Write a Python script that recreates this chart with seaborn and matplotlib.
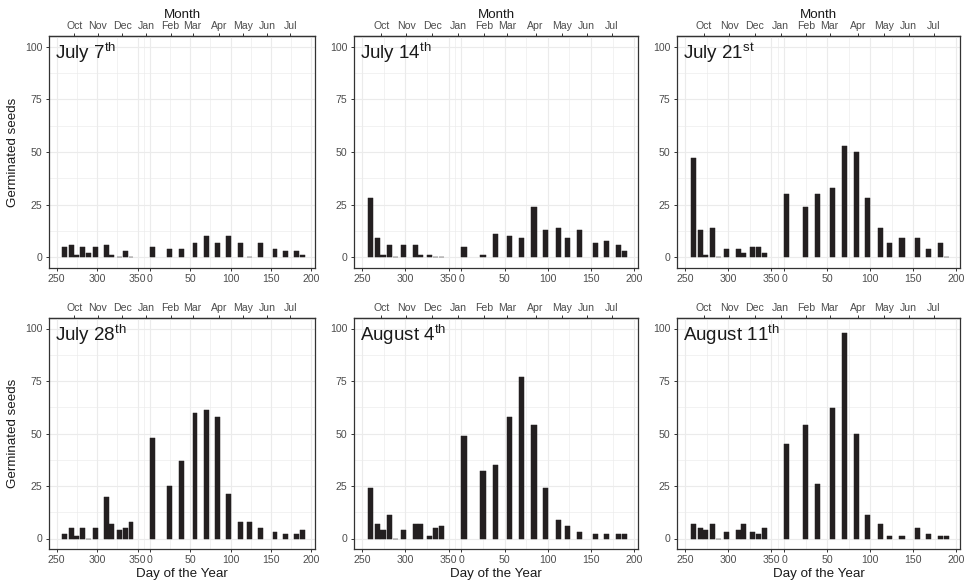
import numpy as np
import pandas as pd
import matplotlib
matplotlib.use("Agg")
import matplotlib.pyplot as plt
import seaborn as sns

# Sampling days: day of year, the season runs from September into the next July
days_first_year = [260, 268, 274, 282, 289, 298, 312, 318, 328, 335, 342]
days_second_year = [3, 25, 39, 56, 70, 84, 97, 112, 123, 137, 155, 168, 182, 189]

# Germinated seeds per sampling day, one list per sowing date
seeds_jul07 = [5, 6, 1, 5, 2, 5, 6, 1, 0, 3, 0,
               5, 4, 4, 7, 10, 7, 10, 7, 0, 7, 4, 3, 3, 1]
seeds_jul14 = [28, 9, 1, 6, 0, 6, 6, 1, 1, 0, 0,
               5, 1, 11, 10, 9, 24, 13, 14, 9, 13, 7, 8, 6, 3]
seeds_jul21 = [47, 13, 1, 14, 0, 4, 4, 2, 5, 5, 2,
               30, 24, 30, 33, 53, 50, 28, 14, 7, 9, 9, 4, 7, 0]
seeds_jul28 = [2, 5, 1, 5, 0, 5, 20, 7, 4, 5, 8,
               48, 25, 37, 60, 61, 58, 21, 8, 8, 5, 3, 2, 2, 4]
seeds_aug04 = [24, 7, 4, 11, 0, 4, 7, 7, 1, 5, 6,
               49, 32, 35, 58, 77, 54, 24, 9, 6, 3, 2, 2, 2, 2]
seeds_aug11 = [7, 5, 4, 7, 0, 3, 4, 7, 3, 2, 5,
               45, 54, 26, 62, 98, 50, 11, 7, 1, 1, 5, 2, 1, 1]

panel_months = ["July", "July", "July", "July", "August", "August"]
panel_days = [7, 14, 21, 28, 4, 11]
panel_suffix = ["th", "th", "st", "th", "th", "th"]

# Day-of-year tick labels and month labels on the top axis
day_tick_labels = [250, 300, 350, 0, 50, 100, 150, 200]
month_labels = ["Oct", "Nov", "Dec", "Jan", "Feb", "Mar", "Apr", "May", "Jun", "Jul"]
month_tick_pos = [272, 301, 331, 361, 391, 418, 451, 481, 510, 539]

sns.set_style("white")
plt.rcParams["font.family"] = ["Liberation Sans", "DejaVu Sans"]
plt.rcParams["mathtext.fontset"] = "custom"
plt.rcParams["mathtext.rm"] = "Liberation Sans"
plt.rcParams["mathtext.it"] = "Liberation Sans:italic"
plt.rcParams["mathtext.bf"] = "Liberation Sans:bold"

YEAR = 365
season_pos = days_first_year + [d + YEAR for d in days_second_year]
tick_pos = [d if d >= 250 else d + YEAR for d in day_tick_labels]
minor_pos = [(a + b) / 2 for a, b in zip(tick_pos[:-1], tick_pos[1:])]

all_seeds = [seeds_jul07, seeds_jul14, seeds_jul21, seeds_jul28, seeds_aug04, seeds_aug11]

W, H = 966, 585
fig = plt.figure(figsize=(W / 100, H / 100), dpi=100)

col_box = [(49, 315), (354, 638), (677, 960)]
row_box = [(36, 268), (318, 549)]

BAR = "#231f20"
TICK_C = "#333333"
LAB_C = "#4d4d4d"
GRID_C = "#ebebeb"
TITLE_C = "#1a1a1a"

TICK_FS = 7.6
AXIS_FS = 9.6

bar_width_days = 6.0
native_unit = np.diff(np.unique(season_pos)).min()

for i, seeds in enumerate(all_seeds):
    r, c = divmod(i, 3)
    x0, x1 = col_box[c]
    y0, y1 = row_box[r]
    ax = fig.add_axes([x0 / W, 1 - y1 / H, (x1 - x0) / W, (y1 - y0) / H])

    df = pd.DataFrame({"pos": season_pos, "seeds": seeds})
    sns.barplot(data=df, x="pos", y="seeds", native_scale=True,
                width=bar_width_days / native_unit, color=BAR, saturation=1,
                errorbar=None, edgecolor=BAR, linewidth=0.35, ax=ax)

    ax.set_xlim(240.5, 569.5)
    ax.set_ylim(-5, 105)
    ax.set_xticks(tick_pos)
    ax.set_xticklabels([str(t) for t in day_tick_labels])
    ax.set_xticks(minor_pos, minor=True)
    ax.set_yticks([0, 25, 50, 75, 100])
    ax.set_yticks([12.5, 37.5, 62.5, 87.5], minor=True)
    ax.set_axisbelow(True)
    ax.grid(which="major", color=GRID_C, linewidth=0.85)
    ax.grid(which="minor", color=GRID_C, linewidth=0.45)

    ax.tick_params(which="major", axis="both", length=2.2, width=0.7,
                   color=TICK_C, labelcolor=LAB_C, labelsize=TICK_FS,
                   bottom=True, left=True, top=False, right=False)
    ax.tick_params(axis="x", pad=1.8)
    ax.tick_params(axis="y", pad=2.6)
    ax.tick_params(which="minor", length=0)
    for sp in ax.spines.values():
        sp.set_visible(True)
        sp.set_color(TICK_C)
        sp.set_linewidth(0.9)

    sec = ax.secondary_xaxis("top")
    sec.set_xticks(month_tick_pos)
    sec.set_xticklabels(month_labels)
    sec.tick_params(length=2.2, width=0.7, color=TICK_C, labelcolor=LAB_C,
                    labelsize=TICK_FS, pad=1.2)
    sec.spines["top"].set_color(TICK_C)
    sec.spines["top"].set_linewidth(0.9)

    if r == 0:
        sec.set_xlabel("Month", fontsize=AXIS_FS, labelpad=2.2, color=TITLE_C)
    if r == 1:
        ax.set_xlabel("Day of the Year", fontsize=AXIS_FS, labelpad=2.8, color=TITLE_C)
    else:
        ax.set_xlabel("")
    if c == 0:
        ax.set_ylabel("Germinated seeds", fontsize=AXIS_FS, labelpad=4.5, color=TITLE_C)
    else:
        ax.set_ylabel("")

    title = f"{panel_months[i]} {panel_days[i]}$^{{\\mathrm{{{panel_suffix[i]}}}}}$"
    ax.annotate(title, xy=(0, 1), xycoords="axes fraction",
                xytext=(6, -5), textcoords="offset pixels",
                ha="left", va="top", fontsize=13.5, color=TITLE_C)

fig.savefig("out.png", dpi=100)
